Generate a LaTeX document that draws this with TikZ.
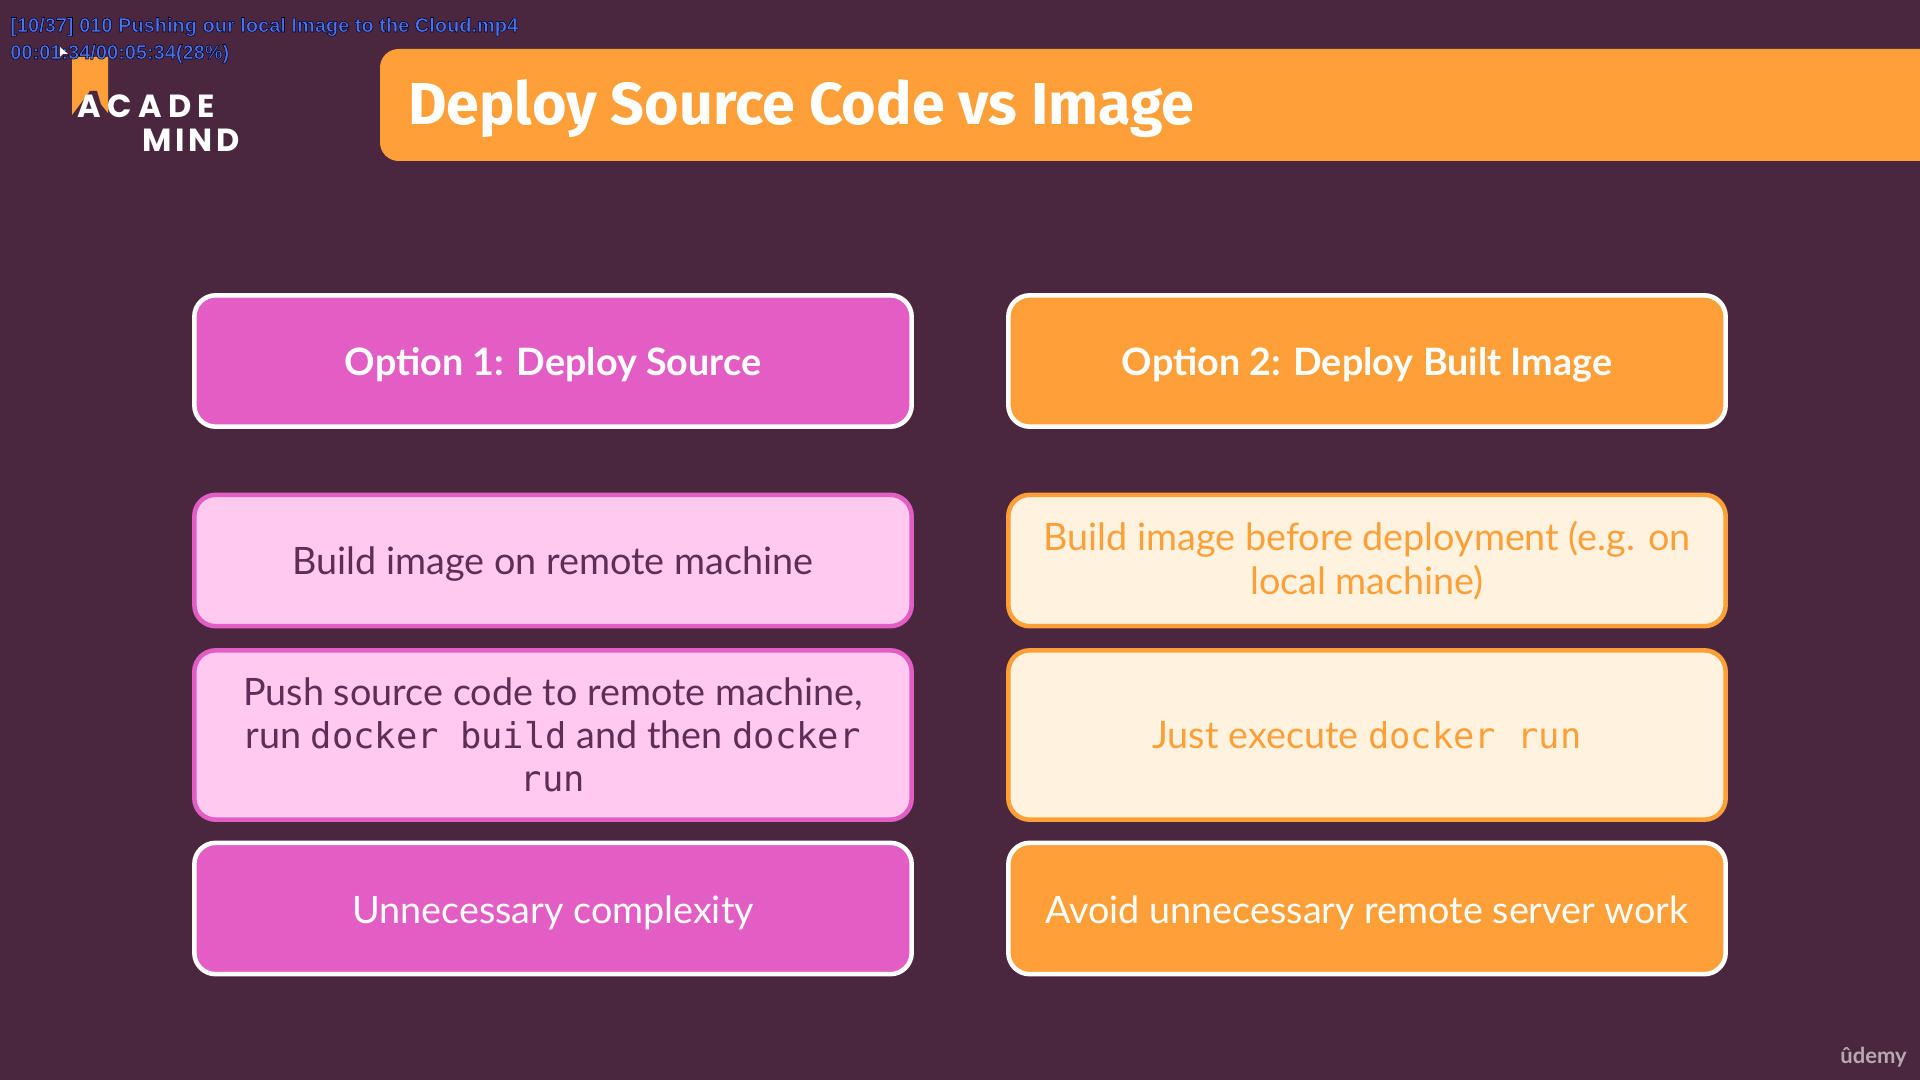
\documentclass[tikz,border=0pt]{standalone}
\usepackage{fontspec}
\setmainfont{Lato}
\setmonofont[Scale=0.94]{DejaVu Sans Mono}
\newfontfamily\titlefont{Fira Sans}
\newfontfamily\logofont[LetterSpace=20]{Poppins}
\newfontfamily\logofontb[LetterSpace=12]{Poppins}
\newfontfamily\osdfont{Liberation Sans}
\newcommand{\osdline}[1]{\special{pdf:code q 2 Tr 0.4 w 0 0 0.12 RG}#1\special{pdf:code Q}}
\definecolor{plumbg}{HTML}{4A273F}
\definecolor{barorange}{HTML}{FF9F38}
\definecolor{boxmagenta}{HTML}{E35EC4}
\definecolor{boxpink}{HTML}{FFC9F0}
\definecolor{boxcream}{HTML}{FFF3E0}
\definecolor{pinktext}{HTML}{5F2E58}
\definecolor{osdblue}{HTML}{4973F0}
\tikzset{
  optbox/.style={draw,line width=3.4pt,rounded corners=16pt,minimum width=538pt,minimum height=#1,
    align=center,font=\fontsize{28.3pt}{32.5pt}\selectfont,inner sep=0pt},
  lowtext/.style={execute at begin node={\rule{0pt}{#1}}},
  pinkhead/.style={optbox=98.5pt,draw=white,fill=boxmagenta,text=white},
  orangehead/.style={optbox=98.5pt,draw=white,fill=barorange,text=white},
  pinkitem/.style={optbox=#1,draw=boxmagenta,fill=boxpink,text=pinktext},
  creamitem/.style={optbox=#1,draw=barorange,fill=boxcream,text=barorange},
  osdtext/.style={anchor=base west,inner sep=0pt,text=osdblue,font=\osdfont\bfseries\fontsize{15pt}{18pt}\selectfont},
}
\begin{document}
\begin{tikzpicture}[x=0.75pt,y=-0.75pt]
\useasboundingbox (0,0) rectangle (1920,1080);
\fill[plumbg] (0,0) rectangle (1920,1080);

% logo
\fill[barorange] (72,57) -- (108,57) -- (108,113) -- (90,91) -- (72,115) -- cycle;
\fill[plumbg] (83,115) -- (90,91) -- (97,91) -- (104,115) -- cycle;
\node[anchor=base west,inner sep=0pt,text=white,font=\logofont\bfseries\fontsize{24pt}{26pt}\selectfont] (logoacade) at (77,118) {ACADE};
\node[anchor=base west,inner sep=0pt,text=white,font=\logofontb\bfseries\fontsize{24pt}{26pt}\selectfont] (logomind) at (142,152) {MIND};

% title bar
\fill[barorange] (1920,49) [rounded corners=14pt] -- (380,49) -- (380,161) [sharp corners] -- (1920,161) -- cycle;
\node[anchor=base west,inner sep=0pt,text=white,font=\titlefont\bfseries\fontsize{44.4pt}{50pt}\selectfont] (title) at (408,125) {Deploy Source Code vs Image};

% left column
\node[pinkhead,lowtext=0.95em,font=\bfseries\fontsize{28.3pt}{32.5pt}\selectfont] (opta) at (553,361) {Option 1: Deploy Source};
\node[pinkitem=98.5pt,lowtext=0.95em] (builda) at (553,560.5) {Build image on remote machine};
\node[pinkitem=127pt] (pusha) at (553,735) {Push source code to remote machine,\\run {\ttfamily docker build} and then {\ttfamily docker}\\{\ttfamily run}};
\node[pinkhead,lowtext=0.95em] (resulta) at (553,908.5) {Unnecessary complexity};

% right column
\node[orangehead,lowtext=0.95em,font=\bfseries\fontsize{28.3pt}{32.5pt}\selectfont] (optb) at (1367,361) {Option 2: Deploy Built Image};
\node[creamitem=98.5pt,lowtext=1.2em] (buildb) at (1367,560.5) {Build image before deployment (e.g. on\\local machine)};
\node[creamitem=127pt] (runb) at (1367,735) {Just execute {\ttfamily docker run}};
\node[orangehead,lowtext=0.95em] (resultb) at (1367,908.5) {Avoid unnecessary remote server work};

% player overlay
\node[osdtext] (osdname) at (10,32) {\osdline{[10/37] 010 Pushing our local Image to the Cloud.mp4}};
\node[osdtext] (osdtime) at (10,59) {\osdline{00:01:34/00:05:34(28\%)}};
\fill[white] (60,47) -- (60,57) -- (63,54) -- (68,54) -- cycle;

% watermark
\node[anchor=base east,inner sep=0pt,text=white!60!plumbg,font=\bfseries\fontsize{16.5pt}{18pt}\selectfont] (udemy) at (1907,1063) {ûdemy};
\end{tikzpicture}
\end{document}
